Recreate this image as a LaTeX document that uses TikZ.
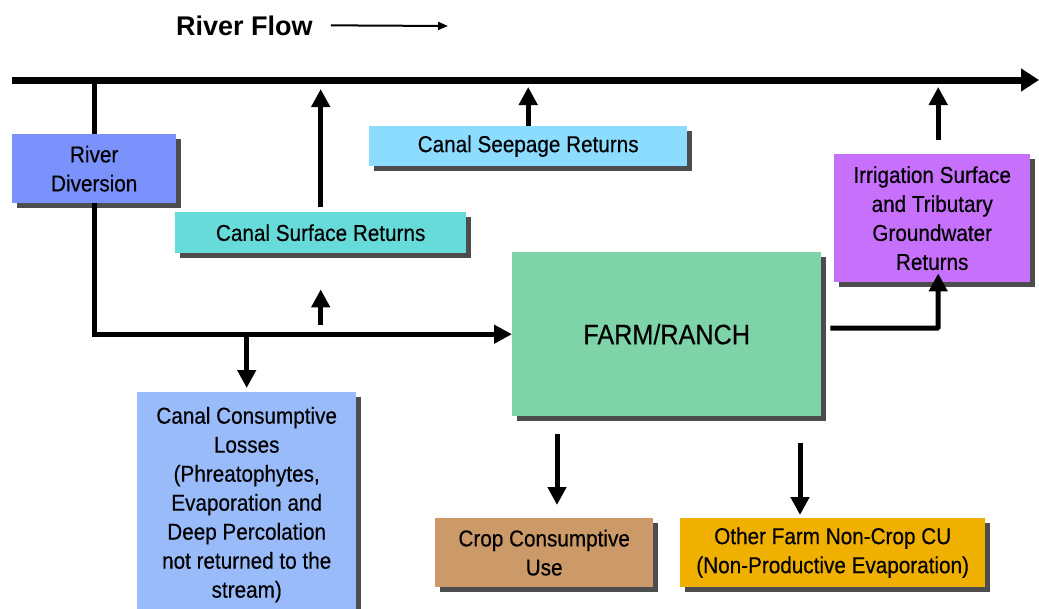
\documentclass[tikz,border=0pt]{standalone}
\usepackage{fontspec}
\setmainfont{Liberation Sans}[FakeStretch=0.9,FakeBold=0.4]
\newfontfamily\flowfont{Liberation Sans}
\usepackage{xcolor}
\usetikzlibrary{arrows.meta,shadows}

\definecolor{divblue}{RGB}{123,146,252}
\definecolor{surfteal}{RGB}{102,219,217}
\definecolor{seepblue}{RGB}{140,220,255}
\definecolor{irrpurple}{RGB}{199,112,252}
\definecolor{farmgreen}{RGB}{126,212,168}
\definecolor{lossblue}{RGB}{153,187,250}
\definecolor{croptan}{RGB}{204,153,104}
\definecolor{othergold}{RGB}{240,176,0}
\definecolor{shadowgray}{RGB}{77,77,77}

\begin{document}
\begin{tikzpicture}[x=1pt,y=-1pt,
	box/.style={anchor=north west, inner sep=0pt, align=center,
		font=\fontsize{23}{29}\selectfont,
		drop shadow={shadow xshift=5pt, shadow yshift=-5pt, fill=shadowgray, opacity=1}},
	flow/.style={line width=5pt, -{Triangle[length=18pt,width=18pt]}},
	river/.style={line width=7pt, -{Triangle[length=18pt,width=22pt]}}]
	\clip (0,0) rectangle (1039,608);

	\node[anchor=base west, inner sep=0pt, font=\flowfont\bfseries\fontsize{27}{31}\selectfont] (flowlabel) at (176,35) {River Flow};
	\coordinate (flowend) at (448,26);
	\draw[line width=2pt, -{Triangle[length=10pt,width=8pt]}] ([xshift=18pt]flowlabel.east) -- (flowend);

	\coordinate (riverL) at (12,80);
	\coordinate (riverR) at (1039,80);
	\draw[river] (riverL) -- (riverR);

	\node[box, fill=divblue, minimum width=164pt, minimum height=69pt] (div) at (12,134) {River\\Diversion};
	\node[box, fill=surfteal, minimum width=291pt, minimum height=41pt] (surf) at (175,212) {Canal Surface Returns};
	\node[box, fill=seepblue, minimum width=318pt, minimum height=40pt] (seep) at (369,126) {Canal Seepage Returns};
	\node[box, fill=irrpurple, minimum width=196pt, minimum height=128pt] (irr) at (834,154) {Irrigation Surface\\and Tributary\\Groundwater\\Returns};
	\node[box, fill=farmgreen, minimum width=309pt, minimum height=164pt, font=\fontsize{28}{32}\selectfont] (farm) at (512,252) {FARM/RANCH};
	\node[box, fill=lossblue, minimum width=219pt, minimum height=225pt] (loss) at (137,392) {Canal Consumptive\\Losses\\(Phreatophytes,\\Evaporation and\\Deep Percolation\\not returned to the\\stream)};
	\node[box, fill=croptan, minimum width=218pt, minimum height=69pt] (crop) at (435,518) {Crop Consumptive\\Use};
	\node[box, fill=othergold, minimum width=305pt, minimum height=69pt] (other) at (680,518) {Other Farm Non-Crop CU\\(Non-Productive Evaporation)};

	\draw[line width=5pt] (div.north |- riverL) -- (div.north);
	\draw[flow] (div.south) |- (farm.west);
	\draw[flow, shorten >=4pt] (loss.north |- farm.west) -- (loss.north);
	\draw[flow, shorten <=9pt, shorten >=36pt] (surf.south |- farm.west) -- (surf.south);
	\draw[flow, shorten <=5pt, shorten >=9pt] (surf.north) -- (surf.north |- riverL);
	\draw[flow, shorten >=7pt] (seep.north) -- (seep.north |- riverL);
	\draw[flow, shorten <=14pt, shorten >=7pt] ([xshift=6pt]irr.north) -- ([xshift=6pt]irr.north |- riverL);
	\draw[flow, rounded corners=1pt] ([shift={(9pt,6pt)}]farm.east) -| ([shift={(6pt,9pt)}]irr.south);

	\coordinate (cropin) at (557,434);
	\coordinate (otherin) at (800,443);
	\draw[flow, shorten >=13pt] (cropin) -- (cropin |- crop.north);
	\draw[flow, shorten >=3pt] (otherin) -- (otherin |- other.north);
\end{tikzpicture}
\end{document}
